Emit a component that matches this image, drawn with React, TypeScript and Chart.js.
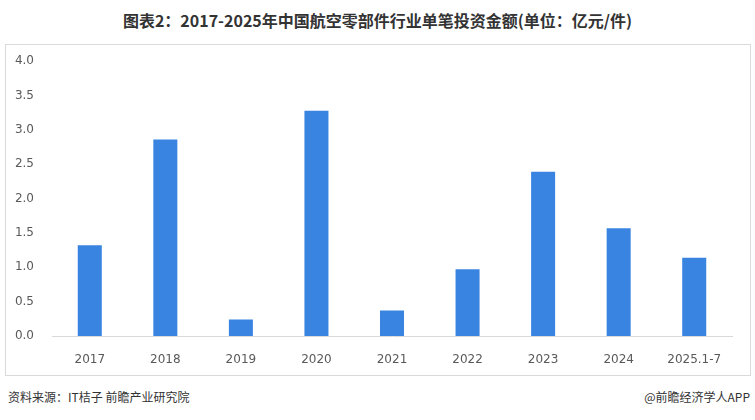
import React, { useEffect, useRef } from "react";
import { Chart, registerables } from "chart.js";

Chart.register(...registerables);

const categories = ["2017", "2018", "2019", "2020", "2021", "2022", "2023", "2024", "2025.1-7"];
const values = [1.32, 2.86, 0.24, 3.28, 0.37, 0.97, 2.39, 1.57, 1.14];
const yTicks = [0, 0.5, 1, 1.5, 2, 2.5, 3, 3.5, 4];

const titleText = "图表2：2017-2025年中国航空零部件行业单笔投资金额(单位：亿元/件)";
const sourceText = "资料来源：IT桔子 前瞻产业研究院";
const brandText = "@前瞻经济学人APP";

export default function App() {
  const ref = useRef<HTMLCanvasElement | null>(null);

  useEffect(() => {
    if (!ref.current) return;
    const chart = new Chart(ref.current, {
      type: "bar",
      data: {
        labels: categories,
        datasets: [
          {
            data: values,
            backgroundColor: "#3984E1",
            barPercentage: 0.318,
            categoryPercentage: 1,
          },
        ],
      },
      options: {
        animation: false,
        responsive: false,
        maintainAspectRatio: false,
        layout: { padding: { top: 17, right: 23, bottom: 0, left: 0 } },
        plugins: { legend: { display: false }, tooltip: { enabled: false }, title: { display: false } },
        scales: {
          x: {
            grid: { display: false },
            border: { display: true, color: "#d9d9d9", width: 1 },
            ticks: {
              color: "#595959",
              font: { family: "DejaVu Sans", size: 12 },
              padding: 9,
              maxRotation: 0,
              autoSkip: false,
            },
            afterFit: (axis: any) => {
              axis.height = 39;
            },
          },
          y: {
            min: 0,
            max: 4,
            grid: { display: false },
            border: { display: false },
            afterBuildTicks: (axis: any) => {
              axis.ticks = yTicks.map((v) => ({ value: v }));
            },
            ticks: {
              color: "#595959",
              font: { family: "DejaVu Sans", size: 12 },
              padding: 10,
              callback: (v: any) => Number(v).toFixed(1),
            },
            afterFit: (axis: any) => {
              axis.width = 52;
            },
          },
        },
      },
    });
    return () => chart.destroy();
  }, []);

  return (
    <div
      style={{
        position: "absolute",
        left: 0,
        top: 0,
        width: 755,
        height: 420,
        background: "#ffffff",
        fontFamily: "'Noto Sans CJK SC', 'Noto Sans', sans-serif",
        overflow: "hidden",
      }}
    >
      <div
        style={{
          position: "absolute",
          left: 0,
          top: 9,
          width: 755,
          textAlign: "center",
          fontSize: 16,
          fontWeight: 700,
          color: "#333333",
          lineHeight: "22px",
        }}
      >
        {titleText}
      </div>
      <div
        style={{
          position: "absolute",
          left: 5,
          top: 44,
          width: 744,
          height: 330,
          border: "1px solid #d9d9d9",
          boxSizing: "content-box",
        }}
      />
      <canvas
        ref={ref}
        width={755}
        height={331}
        style={{ position: "absolute", left: 0, top: 44, width: 755, height: 331 }}
      />
      <div
        style={{
          position: "absolute",
          left: 8,
          top: 388,
          fontSize: 12,
          color: "#333333",
          lineHeight: "18px",
        }}
      >
        {sourceText}
      </div>
      <div
        style={{
          position: "absolute",
          right: 5,
          top: 388,
          fontSize: 12,
          color: "#333333",
          lineHeight: "18px",
        }}
      >
        {brandText}
      </div>
    </div>
  );
}
